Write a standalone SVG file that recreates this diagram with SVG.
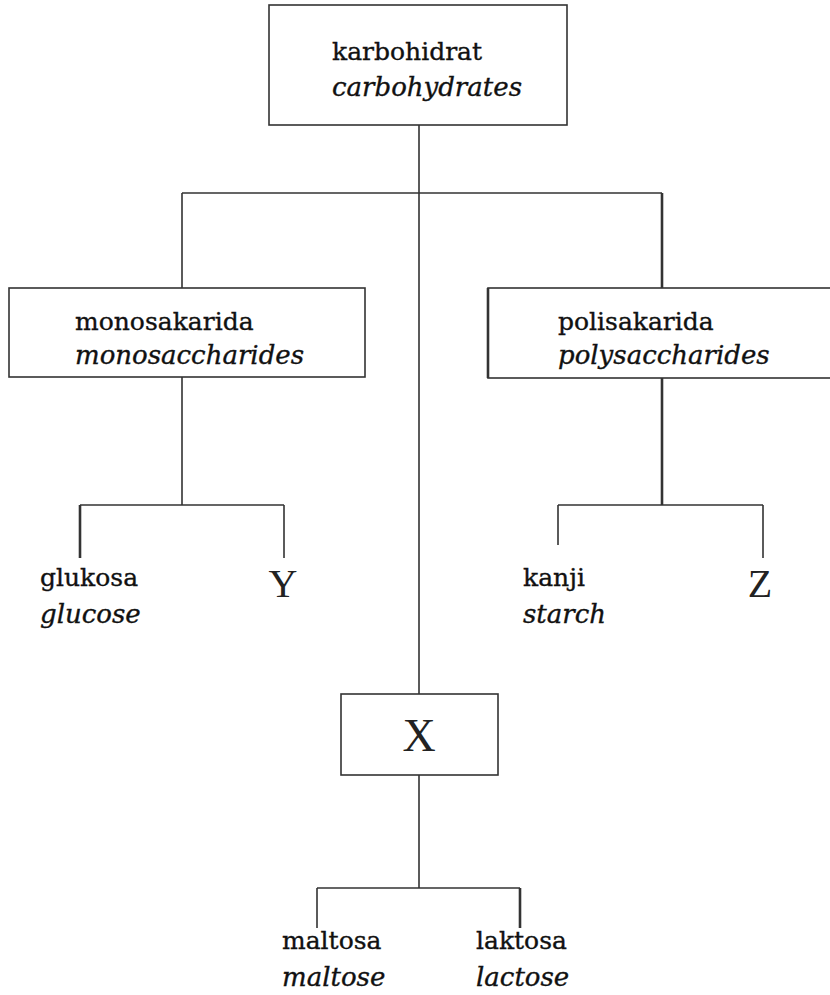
<svg xmlns="http://www.w3.org/2000/svg" width="830" height="995" viewBox="0 0 830 995">
<style>
.box{fill:#fff;stroke:#333;stroke-width:1.6}
.ln{fill:none;stroke:#333;stroke-width:1.6}
.th{stroke-width:2.6}
.t{font-family:"DejaVu Serif","Liberation Serif",serif;font-size:25px;fill:#111;stroke:#111;stroke-width:0.35}
.i{font-style:italic;font-size:26px}
.big{font-family:"Liberation Serif","Times New Roman",serif;fill:#222}
</style>
<rect width="830" height="995" fill="#fff"/>
<g id="connectors">
<path class="ln" d="M419 125V694M419 775V888"/>
<path class="ln" d="M182 193H662M182 193V288"/>
<path class="ln th" d="M662 193V288"/>
<path class="ln" d="M182 377V505M80 505H284M284 505V558"/>
<path class="ln th" d="M80 505V558"/>
<path class="ln th" d="M662 378V505"/>
<path class="ln" d="M558 505H763M558 505V545M763 505V558"/>
<path class="ln" d="M317 888H520M317 888V928"/>
<path class="ln th" d="M520 888V928"/>
</g>
<g id="karbohidrat">
<rect class="box" x="269" y="5" width="298" height="120"/>
<text class="t" x="332" y="60">karbohidrat</text>
<text class="t i" x="332" y="96">carbohydrates</text>
</g>
<g id="monosakarida">
<rect class="box" x="9" y="288" width="356" height="89"/>
<text class="t" x="75" y="330">monosakarida</text>
<text class="t i" x="75" y="364">monosaccharides</text>
</g>
<g id="polisakarida">
<rect class="box" x="488" y="288" width="350" height="90"/>
<path class="ln th" d="M488 288V378"/>
<text class="t" x="558" y="330">polisakarida</text>
<text class="t i" x="558" y="364">polysaccharides</text>
</g>
<g id="glukosa">
<text class="t" x="40" y="586">glukosa</text>
<text class="t i" x="40" y="623">glucose</text>
</g>
<g id="Y">
<text class="big" x="283" y="597" font-size="40" text-anchor="middle">Y</text>
</g>
<g id="kanji">
<text class="t" x="523" y="586">kanji</text>
<text class="t i" x="523" y="623">starch</text>
</g>
<g id="Z">
<text class="big" x="760" y="597" font-size="40" text-anchor="middle">Z</text>
</g>
<g id="X">
<rect class="box" x="341" y="694" width="157" height="81"/>
<text class="big" x="419" y="751" font-size="46" text-anchor="middle">X</text>
</g>
<g id="maltosa">
<text class="t" x="282" y="949">maltosa</text>
<text class="t i" x="282" y="986">maltose</text>
</g>
<g id="laktosa">
<text class="t" x="476" y="949">laktosa</text>
<text class="t i" x="476" y="986">lactose</text>
</g>
</svg>
